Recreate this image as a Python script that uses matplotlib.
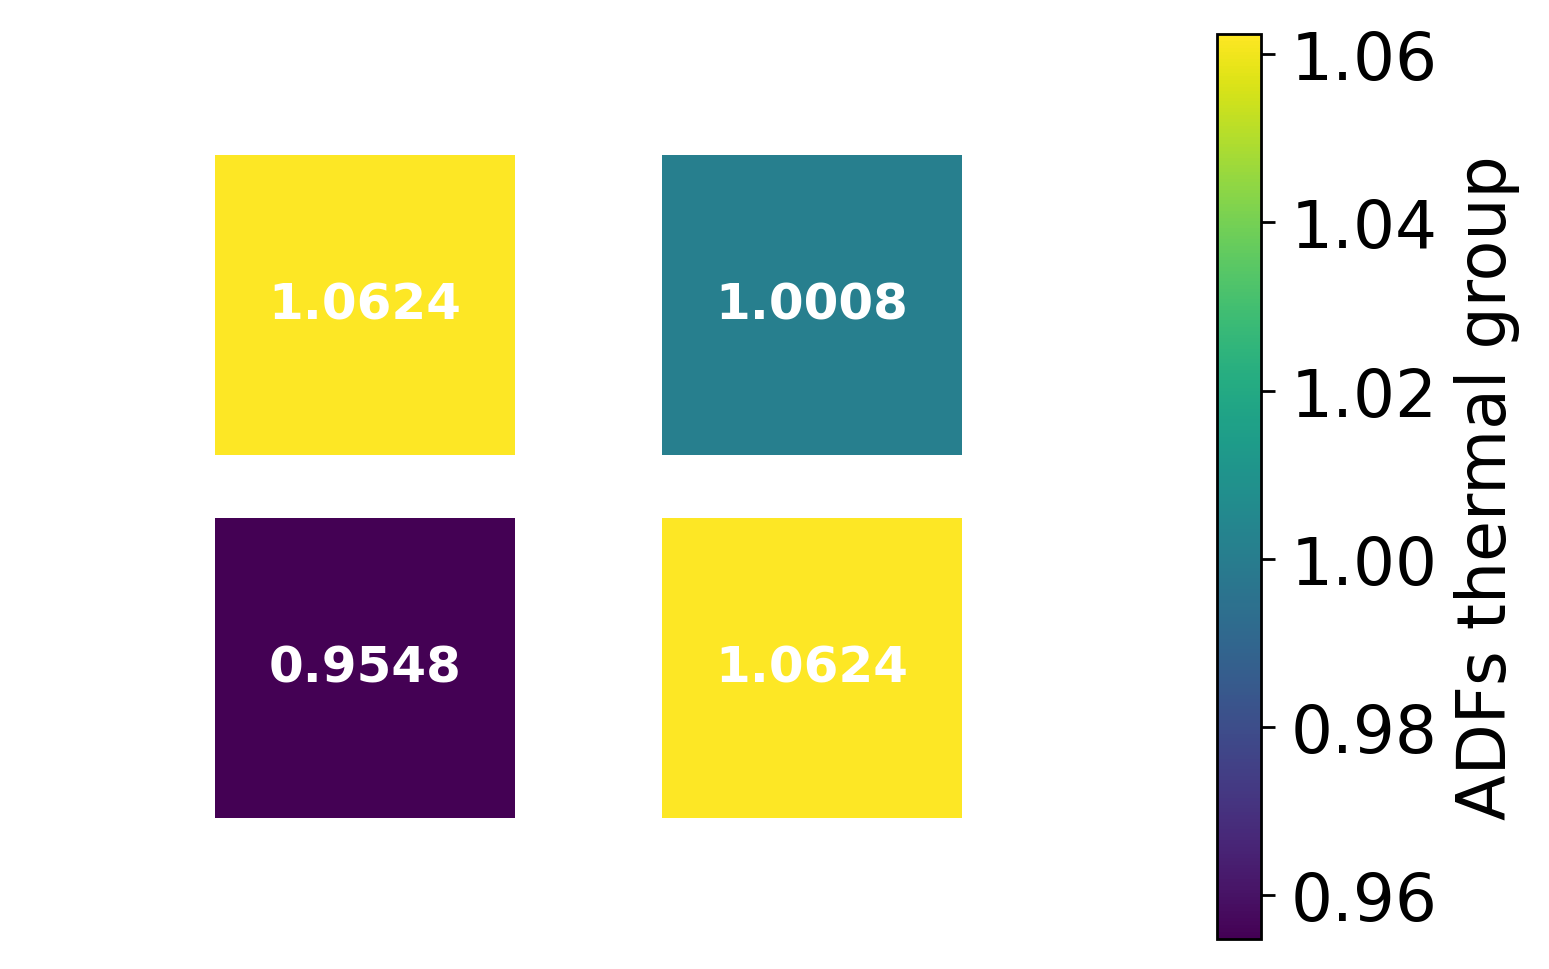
import numpy as np
import matplotlib
matplotlib.use("Agg")
import matplotlib.pyplot as plt

# ADF values per cell (column, row)
col_idx = [0, 1, 0, 1]
row_idx = [1, 1, 0, 0]
adf_vals = [1.0624, 1.0008, 0.9548, 1.0624]
cbar_ticks = [0.96, 0.98, 1.00, 1.02, 1.04, 1.06]

fig = plt.figure(figsize=(15.49, 9.7), dpi=100)
ax = fig.add_axes([0.0915, 0.1232, 0.577, 0.7485])

sc = ax.scatter(col_idx, row_idx, c=adf_vals, cmap="viridis", marker="s",
                s=216**2, vmin=min(adf_vals), vmax=max(adf_vals), linewidths=0)
for x, y, v in zip(col_idx, row_idx, adf_vals):
    ax.text(x, y, f"{v:.4f}", ha="center", va="center", color="white",
            fontsize=36, fontweight="bold")
ax.set_xlim(-0.5, 1.5)
ax.set_ylim(-0.5, 1.5)
ax.axis("off")

cax = fig.add_axes([0.7857, 0.0309, 0.0284, 0.933])
cb = fig.colorbar(sc, cax=cax, ticks=cbar_ticks)
cb.ax.tick_params(labelsize=47.5, length=10, width=2, pad=11)
cb.outline.set_linewidth(2)
cb.set_label("ADFs thermal group", fontsize=48, labelpad=12)

fig.savefig("out.png", dpi=100)
